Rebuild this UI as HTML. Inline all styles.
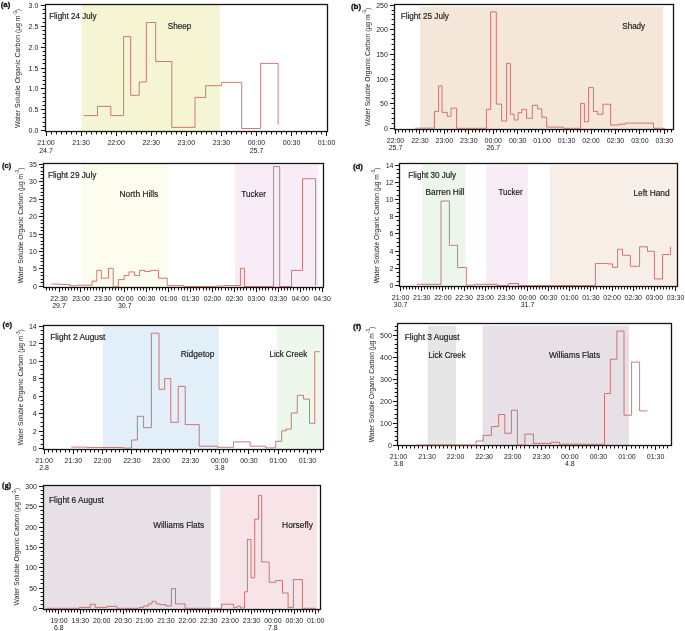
<!DOCTYPE html>
<html><head><meta charset="utf-8"><title>WSOC flights</title>
<style>
html,body{margin:0;padding:0;background:#fff;}
body{width:685px;height:631px;overflow:hidden;}
svg{display:block;font-family:"Liberation Sans", sans-serif;will-change:transform;}
</style></head>
<body>
<svg width="685" height="631" viewBox="0 0 685 631">
<rect width="685" height="631" fill="#fff"/>
<rect x="81.4" y="5" width="138.6" height="126.1" fill="#f5f5d3"/>
<rect x="45.5" y="4.5" width="282" height="127" fill="none" stroke="#141414" stroke-width="1.3"/>
<path d="M83.6,115.6 97.5,115.6 97.5,106.4 110.8,106.4 110.8,115.6 123.6,115.6 123.6,36.6 130.7,36.6 130.7,95.3 139.2,95.3 139.2,82 146.3,82 146.3,22.5 155.7,22.5 155.7,61.5 171.8,61.5 171.8,127.4 195,127.4 195,97.4 205.7,97.4 205.7,85.7 221.7,85.7 221.7,82.4 241.7,82.4 241.7,128.5 260.7,128.5 260.7,63.4 278.1,63.4 278.1,124.6" fill="none" stroke="#c0504d" stroke-width="1.0" stroke-opacity="0.75" stroke-linejoin="miter"/>
<path d="M40.9,130.5H45.5M40.9,109.5H45.5M40.9,88.5H45.5M40.9,68.5H45.5M40.9,47.5H45.5M40.9,26.5H45.5M40.9,5.5H45.5M42.6,126.5H45.5M42.6,122.5H45.5M42.6,117.5H45.5M42.6,113.5H45.5M42.6,105.5H45.5M42.6,101.5H45.5M42.6,97.5H45.5M42.6,93.5H45.5M42.6,84.5H45.5M42.6,80.5H45.5M42.6,76.5H45.5M42.6,72.5H45.5M42.6,63.5H45.5M42.6,59.5H45.5M42.6,55.5H45.5M42.6,51.5H45.5M42.6,43.5H45.5M42.6,38.5H45.5M42.6,34.5H45.5M42.6,30.5H45.5M42.6,22.5H45.5M42.6,18.5H45.5M42.6,13.5H45.5M42.6,9.5H45.5M46.5,131.5V135.9M81.5,131.5V135.9M116.5,131.5V135.9M151.5,131.5V135.9M186.5,131.5V135.9M221.5,131.5V135.9M256.5,131.5V135.9M291.5,131.5V135.9M326.5,131.5V135.9M51.5,131.5V134.6M56.5,131.5V134.6M61.5,131.5V134.6M66.5,131.5V134.6M71.5,131.5V134.6M76.5,131.5V134.6M86.5,131.5V134.6M91.5,131.5V134.6M96.5,131.5V134.6M101.5,131.5V134.6M106.5,131.5V134.6M111.5,131.5V134.6M121.5,131.5V134.6M126.5,131.5V134.6M131.5,131.5V134.6M136.5,131.5V134.6M141.5,131.5V134.6M146.5,131.5V134.6M156.5,131.5V134.6M161.5,131.5V134.6M166.5,131.5V134.6M171.5,131.5V134.6M176.5,131.5V134.6M181.5,131.5V134.6M191.5,131.5V134.6M196.5,131.5V134.6M201.5,131.5V134.6M206.5,131.5V134.6M211.5,131.5V134.6M216.5,131.5V134.6M226.5,131.5V134.6M231.5,131.5V134.6M236.5,131.5V134.6M241.5,131.5V134.6M246.5,131.5V134.6M251.5,131.5V134.6M261.5,131.5V134.6M266.5,131.5V134.6M271.5,131.5V134.6M276.5,131.5V134.6M281.5,131.5V134.6M286.5,131.5V134.6M296.5,131.5V134.6M301.5,131.5V134.6M306.5,131.5V134.6M311.5,131.5V134.6M316.5,131.5V134.6M321.5,131.5V134.6" stroke="#141414" stroke-width="1.05" fill="none"/>
<text x="38.3" y="132.95" font-size="7" text-anchor="end" fill="#222">0.0</text>
<text x="38.3" y="112.15" font-size="7" text-anchor="end" fill="#222">0.5</text>
<text x="38.3" y="91.35" font-size="7" text-anchor="end" fill="#222">1.0</text>
<text x="38.3" y="70.55" font-size="7" text-anchor="end" fill="#222">1.5</text>
<text x="38.3" y="49.75" font-size="7" text-anchor="end" fill="#222">2.0</text>
<text x="38.3" y="28.95" font-size="7" text-anchor="end" fill="#222">2.5</text>
<text x="38.3" y="8.15" font-size="7" text-anchor="end" fill="#222">3.0</text>
<text x="46" y="144.8" font-size="7" text-anchor="middle" fill="#222">21:00</text>
<text x="81.08" y="144.8" font-size="7" text-anchor="middle" fill="#222">21:30</text>
<text x="116.16" y="144.8" font-size="7" text-anchor="middle" fill="#222">22:00</text>
<text x="151.24" y="144.8" font-size="7" text-anchor="middle" fill="#222">22:30</text>
<text x="186.32" y="144.8" font-size="7" text-anchor="middle" fill="#222">23:00</text>
<text x="221.4" y="144.8" font-size="7" text-anchor="middle" fill="#222">23:30</text>
<text x="256.48" y="144.8" font-size="7" text-anchor="middle" fill="#222">00:00</text>
<text x="291.56" y="144.8" font-size="7" text-anchor="middle" fill="#222">00:30</text>
<text x="326.64" y="144.8" font-size="7" text-anchor="middle" fill="#222">01:00</text>
<text x="46" y="152.5" font-size="7" text-anchor="middle" fill="#222">24.7</text>
<text x="256.48" y="152.5" font-size="7" text-anchor="middle" fill="#222">25.7</text>
<text x="49.15" y="18.9" font-size="8.3" fill="#1c1c1c" stroke="#1c1c1c" stroke-width="0.18" textLength="47.4" lengthAdjust="spacingAndGlyphs">Flight 24 July</text>
<text x="167.75" y="28.9" font-size="8.3" fill="#1c1c1c" stroke="#1c1c1c" stroke-width="0.18" textLength="23.6" lengthAdjust="spacingAndGlyphs">Sheep</text>
<text x="0.7" y="7.3" font-size="7.7" font-weight="bold" fill="#111" stroke="#111" stroke-width="0.3" textLength="9.6" lengthAdjust="spacingAndGlyphs">(a)</text>
<text transform="translate(20.2,68.4) rotate(-90)" font-size="6.85" text-anchor="middle" fill="#222">Water Soluble Organic Carbon (&#181;g m<tspan font-size="4.79" dy="-3.6">-3</tspan><tspan dy="3.6">)</tspan></text>
<rect x="420" y="6.7" width="243" height="122.6" fill="#f5e6da"/>
<rect x="394.5" y="4.5" width="279" height="125" fill="none" stroke="#141414" stroke-width="1.3"/>
<path d="M415.1,128.2 434.4,128.2 434.4,111.3 438.6,111.3 438.6,85.9 442,85.9 442,112.4 447.3,112.4 447.3,116.3 451,116.3 451,108.2 456.6,108.2 456.6,128.3 486.4,128.3 486.4,109.4 490.6,109.4 490.6,11.9 496.3,11.9 496.3,104.1 501.6,104.1 501.6,121 506.6,121 506.6,63.4 510.4,63.4 510.4,114.1 514.1,114.1 514.1,120 518.1,120 518.1,112.6 521.9,112.6 521.9,109.3 526.5,109.3 526.5,118.3 532.3,118.3 532.3,105.3 537.6,105.3 537.6,108.9 541.8,108.9 541.8,117.3 546.6,117.3 546.6,127.1 563.2,127.1 563.2,128.3 580.6,128.3 580.6,103.4 584.4,103.4 584.4,121.8 588.6,121.8 588.6,87.6 593.4,87.6 593.4,111.4 597.7,111.4 597.7,114.3 602.9,114.3 602.9,104.2 610.6,104.2 610.6,125 618.6,125 618.6,124.2 625.5,124.2 625.5,123.1 653.5,123.1 653.5,128.3 665,128.3" fill="none" stroke="#c0504d" stroke-width="1.0" stroke-opacity="0.75" stroke-linejoin="miter"/>
<path d="M389.9,128.5H394.5M389.9,103.5H394.5M389.9,79.5H394.5M389.9,54.5H394.5M389.9,29.5H394.5M389.9,5.5H394.5M391.6,123.5H394.5M391.6,118.5H394.5M391.6,113.5H394.5M391.6,108.5H394.5M391.6,98.5H394.5M391.6,93.5H394.5M391.6,89.5H394.5M391.6,84.5H394.5M391.6,74.5H394.5M391.6,69.5H394.5M391.6,64.5H394.5M391.6,59.5H394.5M391.6,49.5H394.5M391.6,44.5H394.5M391.6,39.5H394.5M391.6,34.5H394.5M391.6,24.5H394.5M391.6,19.5H394.5M391.6,14.5H394.5M391.6,10.5H394.5M395.5,129.5V133.9M419.5,129.5V133.9M444.5,129.5V133.9M468.5,129.5V133.9M493.5,129.5V133.9M517.5,129.5V133.9M542.5,129.5V133.9M566.5,129.5V133.9M591.5,129.5V133.9M615.5,129.5V133.9M639.5,129.5V133.9M664.5,129.5V133.9M398.5,129.5V132.6M402.5,129.5V132.6M405.5,129.5V132.6M409.5,129.5V132.6M412.5,129.5V132.6M416.5,129.5V132.6M423.5,129.5V132.6M426.5,129.5V132.6M430.5,129.5V132.6M433.5,129.5V132.6M437.5,129.5V132.6M440.5,129.5V132.6M447.5,129.5V132.6M451.5,129.5V132.6M454.5,129.5V132.6M458.5,129.5V132.6M461.5,129.5V132.6M465.5,129.5V132.6M472.5,129.5V132.6M475.5,129.5V132.6M479.5,129.5V132.6M482.5,129.5V132.6M486.5,129.5V132.6M489.5,129.5V132.6M496.5,129.5V132.6M500.5,129.5V132.6M503.5,129.5V132.6M507.5,129.5V132.6M510.5,129.5V132.6M514.5,129.5V132.6M521.5,129.5V132.6M524.5,129.5V132.6M528.5,129.5V132.6M531.5,129.5V132.6M535.5,129.5V132.6M538.5,129.5V132.6M545.5,129.5V132.6M549.5,129.5V132.6M552.5,129.5V132.6M556.5,129.5V132.6M559.5,129.5V132.6M563.5,129.5V132.6M570.5,129.5V132.6M573.5,129.5V132.6M577.5,129.5V132.6M580.5,129.5V132.6M584.5,129.5V132.6M587.5,129.5V132.6M594.5,129.5V132.6M598.5,129.5V132.6M601.5,129.5V132.6M604.5,129.5V132.6M608.5,129.5V132.6M611.5,129.5V132.6M618.5,129.5V132.6M622.5,129.5V132.6M625.5,129.5V132.6M629.5,129.5V132.6M632.5,129.5V132.6M636.5,129.5V132.6M643.5,129.5V132.6M646.5,129.5V132.6M650.5,129.5V132.6M653.5,129.5V132.6M657.5,129.5V132.6M660.5,129.5V132.6M667.5,129.5V132.6M671.5,129.5V132.6" stroke="#141414" stroke-width="1.05" fill="none"/>
<text x="387.9" y="131" font-size="7" text-anchor="end" fill="#222">0</text>
<text x="387.9" y="106.32" font-size="7" text-anchor="end" fill="#222">50</text>
<text x="387.9" y="81.64" font-size="7" text-anchor="end" fill="#222">100</text>
<text x="387.9" y="56.96" font-size="7" text-anchor="end" fill="#222">150</text>
<text x="387.9" y="32.28" font-size="7" text-anchor="end" fill="#222">200</text>
<text x="387.9" y="7.6" font-size="7" text-anchor="end" fill="#222">250</text>
<text x="395.5" y="143" font-size="7" text-anchor="middle" fill="#222">22:00</text>
<text x="419.94" y="143" font-size="7" text-anchor="middle" fill="#222">22:30</text>
<text x="444.38" y="143" font-size="7" text-anchor="middle" fill="#222">23:00</text>
<text x="468.82" y="143" font-size="7" text-anchor="middle" fill="#222">23:30</text>
<text x="493.26" y="143" font-size="7" text-anchor="middle" fill="#222">00:00</text>
<text x="517.7" y="143" font-size="7" text-anchor="middle" fill="#222">00:30</text>
<text x="542.14" y="143" font-size="7" text-anchor="middle" fill="#222">01:00</text>
<text x="566.58" y="143" font-size="7" text-anchor="middle" fill="#222">01:30</text>
<text x="591.02" y="143" font-size="7" text-anchor="middle" fill="#222">02:00</text>
<text x="615.46" y="143" font-size="7" text-anchor="middle" fill="#222">02:30</text>
<text x="639.9" y="143" font-size="7" text-anchor="middle" fill="#222">03:00</text>
<text x="664.34" y="143" font-size="7" text-anchor="middle" fill="#222">03:30</text>
<text x="395.5" y="149.5" font-size="7" text-anchor="middle" fill="#222">25.7</text>
<text x="493.26" y="149.5" font-size="7" text-anchor="middle" fill="#222">26.7</text>
<text x="400.65" y="19" font-size="8.3" fill="#1c1c1c" stroke="#1c1c1c" stroke-width="0.18" textLength="48.2" lengthAdjust="spacingAndGlyphs">Flight 25 July</text>
<text x="622.25" y="28.5" font-size="8.3" fill="#1c1c1c" stroke="#1c1c1c" stroke-width="0.18" textLength="22.9" lengthAdjust="spacingAndGlyphs">Shady</text>
<text x="350.9" y="8.8" font-size="7.7" font-weight="bold" fill="#111" stroke="#111" stroke-width="0.3" textLength="10.3" lengthAdjust="spacingAndGlyphs">(b)</text>
<text transform="translate(369.8,66.9) rotate(-90)" font-size="6.8" text-anchor="middle" fill="#222">Water Soluble Organic Carbon (&#181;g m<tspan font-size="4.76" dy="-3.6">-3</tspan><tspan dy="3.6">)</tspan></text>
<rect x="81.8" y="163.5" width="85.1" height="123.7" fill="#fcfcef"/>
<rect x="234.8" y="165" width="83.2" height="122.2" fill="#f8edf7"/>
<rect x="43.5" y="163.5" width="280" height="124" fill="none" stroke="#141414" stroke-width="1.3"/>
<path d="M51.2,284.1 60.4,284.1 60.4,284.5 69.6,284.5 69.6,285.8 77.8,285.8 77.8,285.2 92.1,285.2 92.1,281.1 96.8,281.1 96.8,270.4 101.3,270.4 101.3,278.2 108.5,278.2 108.5,268.4 113.2,268.4 113.2,286.8 118.3,286.8 118.3,279.6 124.2,279.6 124.2,275.5 128.9,275.5 128.9,271.9 134.4,271.9 134.4,275.5 139.5,275.5 139.5,270.4 144.6,270.4 144.6,271.5 150.4,271.5 150.4,270.4 158.5,270.4 158.5,278.2 167.2,278.2 167.2,285.6 183.7,285.6 183.7,286.5 215.8,286.5 215.8,286 225,286 225,285.5 240.4,285.5 240.4,268.3 244.4,268.3 244.4,286.5 273.6,286.5 273.6,166.6 279.7,166.6 279.7,286.5 291.5,286.5 291.5,270.4 302.5,270.4 302.5,178.7 315.6,178.7 315.6,285.6" fill="none" stroke="#c0504d" stroke-width="1.0" stroke-opacity="0.75" stroke-linejoin="miter"/>
<path d="M38.9,286.5H43.5M38.9,268.5H43.5M38.9,251.5H43.5M38.9,234.5H43.5M38.9,216.5H43.5M38.9,199.5H43.5M38.9,181.5H43.5M38.9,164.5H43.5M40.6,282.5H43.5M40.6,279.5H43.5M40.6,275.5H43.5M40.6,272.5H43.5M40.6,265.5H43.5M40.6,261.5H43.5M40.6,258.5H43.5M40.6,255.5H43.5M40.6,248.5H43.5M40.6,244.5H43.5M40.6,241.5H43.5M40.6,237.5H43.5M40.6,230.5H43.5M40.6,227.5H43.5M40.6,223.5H43.5M40.6,220.5H43.5M40.6,213.5H43.5M40.6,209.5H43.5M40.6,206.5H43.5M40.6,202.5H43.5M40.6,195.5H43.5M40.6,192.5H43.5M40.6,188.5H43.5M40.6,185.5H43.5M40.6,178.5H43.5M40.6,174.5H43.5M40.6,171.5H43.5M40.6,167.5H43.5M59.5,287.5V291.9M80.5,287.5V291.9M102.5,287.5V291.9M124.5,287.5V291.9M146.5,287.5V291.9M168.5,287.5V291.9M190.5,287.5V291.9M212.5,287.5V291.9M234.5,287.5V291.9M256.5,287.5V291.9M278.5,287.5V291.9M300.5,287.5V291.9M322.5,287.5V291.9M46.5,287.5V290.6M49.5,287.5V290.6M52.5,287.5V290.6M55.5,287.5V290.6M62.5,287.5V290.6M65.5,287.5V290.6M68.5,287.5V290.6M71.5,287.5V290.6M74.5,287.5V290.6M77.5,287.5V290.6M84.5,287.5V290.6M87.5,287.5V290.6M90.5,287.5V290.6M93.5,287.5V290.6M96.5,287.5V290.6M99.5,287.5V290.6M105.5,287.5V290.6M109.5,287.5V290.6M112.5,287.5V290.6M115.5,287.5V290.6M118.5,287.5V290.6M121.5,287.5V290.6M127.5,287.5V290.6M131.5,287.5V290.6M134.5,287.5V290.6M137.5,287.5V290.6M140.5,287.5V290.6M143.5,287.5V290.6M149.5,287.5V290.6M152.5,287.5V290.6M156.5,287.5V290.6M159.5,287.5V290.6M162.5,287.5V290.6M165.5,287.5V290.6M171.5,287.5V290.6M174.5,287.5V290.6M178.5,287.5V290.6M181.5,287.5V290.6M184.5,287.5V290.6M187.5,287.5V290.6M193.5,287.5V290.6M196.5,287.5V290.6M199.5,287.5V290.6M203.5,287.5V290.6M206.5,287.5V290.6M209.5,287.5V290.6M215.5,287.5V290.6M218.5,287.5V290.6M221.5,287.5V290.6M225.5,287.5V290.6M228.5,287.5V290.6M231.5,287.5V290.6M237.5,287.5V290.6M240.5,287.5V290.6M243.5,287.5V290.6M246.5,287.5V290.6M250.5,287.5V290.6M253.5,287.5V290.6M259.5,287.5V290.6M262.5,287.5V290.6M265.5,287.5V290.6M268.5,287.5V290.6M272.5,287.5V290.6M275.5,287.5V290.6M281.5,287.5V290.6M284.5,287.5V290.6M287.5,287.5V290.6M290.5,287.5V290.6M293.5,287.5V290.6M297.5,287.5V290.6M303.5,287.5V290.6M306.5,287.5V290.6M309.5,287.5V290.6M312.5,287.5V290.6M315.5,287.5V290.6M319.5,287.5V290.6" stroke="#141414" stroke-width="1.05" fill="none"/>
<text x="36.8" y="288.9" font-size="7" text-anchor="end" fill="#222">0</text>
<text x="36.8" y="271.47" font-size="7" text-anchor="end" fill="#222">5</text>
<text x="36.8" y="254.04" font-size="7" text-anchor="end" fill="#222">10</text>
<text x="36.8" y="236.61" font-size="7" text-anchor="end" fill="#222">15</text>
<text x="36.8" y="219.18" font-size="7" text-anchor="end" fill="#222">20</text>
<text x="36.8" y="201.75" font-size="7" text-anchor="end" fill="#222">25</text>
<text x="36.8" y="184.32" font-size="7" text-anchor="end" fill="#222">30</text>
<text x="36.8" y="166.89" font-size="7" text-anchor="end" fill="#222">35</text>
<text x="59" y="300.5" font-size="7" text-anchor="middle" fill="#222">22:30</text>
<text x="80.93" y="300.5" font-size="7" text-anchor="middle" fill="#222">23:00</text>
<text x="102.86" y="300.5" font-size="7" text-anchor="middle" fill="#222">23:30</text>
<text x="124.79" y="300.5" font-size="7" text-anchor="middle" fill="#222">00:00</text>
<text x="146.72" y="300.5" font-size="7" text-anchor="middle" fill="#222">00:30</text>
<text x="168.65" y="300.5" font-size="7" text-anchor="middle" fill="#222">01:00</text>
<text x="190.58" y="300.5" font-size="7" text-anchor="middle" fill="#222">01:30</text>
<text x="212.51" y="300.5" font-size="7" text-anchor="middle" fill="#222">02:00</text>
<text x="234.44" y="300.5" font-size="7" text-anchor="middle" fill="#222">02:30</text>
<text x="256.37" y="300.5" font-size="7" text-anchor="middle" fill="#222">03:00</text>
<text x="278.3" y="300.5" font-size="7" text-anchor="middle" fill="#222">03:30</text>
<text x="300.23" y="300.5" font-size="7" text-anchor="middle" fill="#222">04:00</text>
<text x="322.16" y="300.5" font-size="7" text-anchor="middle" fill="#222">04:30</text>
<text x="59" y="308" font-size="7" text-anchor="middle" fill="#222">29.7</text>
<text x="124.79" y="308" font-size="7" text-anchor="middle" fill="#222">30.7</text>
<text x="48.05" y="178.1" font-size="8.3" fill="#1c1c1c" stroke="#1c1c1c" stroke-width="0.18" textLength="48.3" lengthAdjust="spacingAndGlyphs">Flight 29 July</text>
<text x="119.55" y="196.9" font-size="8.3" fill="#1c1c1c" stroke="#1c1c1c" stroke-width="0.18" textLength="38.7" lengthAdjust="spacingAndGlyphs">North Hills</text>
<text x="241.35" y="196.6" font-size="8.3" fill="#1c1c1c" stroke="#1c1c1c" stroke-width="0.18" textLength="24.6" lengthAdjust="spacingAndGlyphs">Tucker</text>
<text x="2" y="167.7" font-size="7.7" font-weight="bold" fill="#111" stroke="#111" stroke-width="0.3" textLength="9.2" lengthAdjust="spacingAndGlyphs">(c)</text>
<text transform="translate(23,225.4) rotate(-90)" font-size="6.65" text-anchor="middle" fill="#222">Water Soluble Organic Carbon (&#181;g m<tspan font-size="4.66" dy="-3.6">-3</tspan><tspan dy="3.6">)</tspan></text>
<rect x="422" y="165.1" width="43.3" height="121.2" fill="#ecf7ec"/>
<rect x="486" y="165.3" width="41.9" height="121" fill="#f8edf6"/>
<rect x="550" y="165.3" width="127.3" height="121" fill="#f7eee8"/>
<rect x="399.5" y="163.5" width="278" height="123" fill="none" stroke="#141414" stroke-width="1.3"/>
<path d="M416.8,284.3 441,284.3 441,201 449.4,201 449.4,245.3 457.6,245.3 457.6,267.5 466.3,267.5 466.3,285.2 474.6,285.2 474.6,284.3 497.1,284.3 497.1,285.5 508.5,285.5 508.5,283.6 518.5,283.6 518.5,285.6 595.4,285.6 595.4,263.5 607.5,263.5 607.5,263.9 612.5,263.9 612.5,267.4 617.6,267.4 617.6,249.3 622.5,249.3 622.5,255.3 630.3,255.3 630.3,266.3 639.6,266.3 639.6,246.8 647.5,246.8 647.5,251.3 654.4,251.3 654.4,278.9 662.5,278.9 662.5,254.5 670.4,254.5 670.4,246.8" fill="none" stroke="#c0504d" stroke-width="1.0" stroke-opacity="0.75" stroke-linejoin="miter"/>
<path d="M394.9,285.5H399.5M394.9,268.5H399.5M394.9,251.5H399.5M394.9,233.5H399.5M394.9,216.5H399.5M394.9,199.5H399.5M394.9,182.5H399.5M394.9,165.5H399.5M396.6,281.5H399.5M396.6,276.5H399.5M396.6,272.5H399.5M396.6,264.5H399.5M396.6,259.5H399.5M396.6,255.5H399.5M396.6,246.5H399.5M396.6,242.5H399.5M396.6,238.5H399.5M396.6,229.5H399.5M396.6,225.5H399.5M396.6,220.5H399.5M396.6,212.5H399.5M396.6,208.5H399.5M396.6,203.5H399.5M396.6,195.5H399.5M396.6,190.5H399.5M396.6,186.5H399.5M396.6,177.5H399.5M396.6,173.5H399.5M396.6,169.5H399.5M400.5,286.5V290.9M421.5,286.5V290.9M442.5,286.5V290.9M464.5,286.5V290.9M485.5,286.5V290.9M506.5,286.5V290.9M527.5,286.5V290.9M548.5,286.5V290.9M569.5,286.5V290.9M590.5,286.5V290.9M612.5,286.5V290.9M633.5,286.5V290.9M654.5,286.5V290.9M675.5,286.5V290.9M403.5,286.5V289.6M406.5,286.5V289.6M409.5,286.5V289.6M412.5,286.5V289.6M415.5,286.5V289.6M418.5,286.5V289.6M424.5,286.5V289.6M427.5,286.5V289.6M430.5,286.5V289.6M433.5,286.5V289.6M436.5,286.5V289.6M439.5,286.5V289.6M445.5,286.5V289.6M448.5,286.5V289.6M451.5,286.5V289.6M454.5,286.5V289.6M458.5,286.5V289.6M461.5,286.5V289.6M467.5,286.5V289.6M470.5,286.5V289.6M473.5,286.5V289.6M476.5,286.5V289.6M479.5,286.5V289.6M482.5,286.5V289.6M488.5,286.5V289.6M491.5,286.5V289.6M494.5,286.5V289.6M497.5,286.5V289.6M500.5,286.5V289.6M503.5,286.5V289.6M509.5,286.5V289.6M512.5,286.5V289.6M515.5,286.5V289.6M518.5,286.5V289.6M521.5,286.5V289.6M524.5,286.5V289.6M530.5,286.5V289.6M533.5,286.5V289.6M536.5,286.5V289.6M539.5,286.5V289.6M542.5,286.5V289.6M545.5,286.5V289.6M551.5,286.5V289.6M554.5,286.5V289.6M557.5,286.5V289.6M560.5,286.5V289.6M563.5,286.5V289.6M566.5,286.5V289.6M572.5,286.5V289.6M575.5,286.5V289.6M578.5,286.5V289.6M581.5,286.5V289.6M584.5,286.5V289.6M587.5,286.5V289.6M593.5,286.5V289.6M596.5,286.5V289.6M600.5,286.5V289.6M603.5,286.5V289.6M606.5,286.5V289.6M609.5,286.5V289.6M615.5,286.5V289.6M618.5,286.5V289.6M621.5,286.5V289.6M624.5,286.5V289.6M627.5,286.5V289.6M630.5,286.5V289.6M636.5,286.5V289.6M639.5,286.5V289.6M642.5,286.5V289.6M645.5,286.5V289.6M648.5,286.5V289.6M651.5,286.5V289.6M657.5,286.5V289.6M660.5,286.5V289.6M663.5,286.5V289.6M666.5,286.5V289.6M669.5,286.5V289.6M672.5,286.5V289.6" stroke="#141414" stroke-width="1.05" fill="none"/>
<text x="393.5" y="288.1" font-size="7" text-anchor="end" fill="#222">0</text>
<text x="393.5" y="270.87" font-size="7" text-anchor="end" fill="#222">2</text>
<text x="393.5" y="253.64" font-size="7" text-anchor="end" fill="#222">4</text>
<text x="393.5" y="236.42" font-size="7" text-anchor="end" fill="#222">6</text>
<text x="393.5" y="219.19" font-size="7" text-anchor="end" fill="#222">8</text>
<text x="393.5" y="201.96" font-size="7" text-anchor="end" fill="#222">10</text>
<text x="393.5" y="184.73" font-size="7" text-anchor="end" fill="#222">12</text>
<text x="393.5" y="167.5" font-size="7" text-anchor="end" fill="#222">14</text>
<text x="400.6" y="300" font-size="7" text-anchor="middle" fill="#222">21:00</text>
<text x="421.75" y="300" font-size="7" text-anchor="middle" fill="#222">21:30</text>
<text x="442.9" y="300" font-size="7" text-anchor="middle" fill="#222">22:00</text>
<text x="464.05" y="300" font-size="7" text-anchor="middle" fill="#222">22:30</text>
<text x="485.2" y="300" font-size="7" text-anchor="middle" fill="#222">23:00</text>
<text x="506.35" y="300" font-size="7" text-anchor="middle" fill="#222">23:30</text>
<text x="527.5" y="300" font-size="7" text-anchor="middle" fill="#222">00:00</text>
<text x="548.65" y="300" font-size="7" text-anchor="middle" fill="#222">00:30</text>
<text x="569.8" y="300" font-size="7" text-anchor="middle" fill="#222">01:00</text>
<text x="590.95" y="300" font-size="7" text-anchor="middle" fill="#222">01:30</text>
<text x="612.1" y="300" font-size="7" text-anchor="middle" fill="#222">02:00</text>
<text x="633.25" y="300" font-size="7" text-anchor="middle" fill="#222">02:30</text>
<text x="654.4" y="300" font-size="7" text-anchor="middle" fill="#222">03:00</text>
<text x="675.55" y="300" font-size="7" text-anchor="middle" fill="#222">03:30</text>
<text x="400.6" y="307" font-size="7" text-anchor="middle" fill="#222">30.7</text>
<text x="527.5" y="307" font-size="7" text-anchor="middle" fill="#222">31.7</text>
<text x="408.35" y="178.2" font-size="8.3" fill="#1c1c1c" stroke="#1c1c1c" stroke-width="0.18" textLength="47.8" lengthAdjust="spacingAndGlyphs">Flight 30 July</text>
<text x="425.55" y="195" font-size="8.3" fill="#1c1c1c" stroke="#1c1c1c" stroke-width="0.18" textLength="38.9" lengthAdjust="spacingAndGlyphs">Barren Hill</text>
<text x="498.45" y="195" font-size="8.3" fill="#1c1c1c" stroke="#1c1c1c" stroke-width="0.18" textLength="24.2" lengthAdjust="spacingAndGlyphs">Tucker</text>
<text x="633.45" y="195.5" font-size="8.3" fill="#1c1c1c" stroke="#1c1c1c" stroke-width="0.18" textLength="36.2" lengthAdjust="spacingAndGlyphs">Left Hand</text>
<text x="352.9" y="169.2" font-size="7.7" font-weight="bold" fill="#111" stroke="#111" stroke-width="0.3" textLength="10.1" lengthAdjust="spacingAndGlyphs">(d)</text>
<text transform="translate(379,225.5) rotate(-90)" font-size="6.65" text-anchor="middle" fill="#222">Water Soluble Organic Carbon (&#181;g m<tspan font-size="4.66" dy="-3.6">-3</tspan><tspan dy="3.6">)</tspan></text>
<rect x="102.9" y="326.8" width="115.9" height="122.6" fill="#e2eef8"/>
<rect x="276.7" y="326.8" width="45.9" height="122.6" fill="#eef7eb"/>
<rect x="43.5" y="325.5" width="280" height="124" fill="none" stroke="#141414" stroke-width="1.3"/>
<path d="M71.4,447.1 87.2,447.1 87.2,447.5 123.1,447.5 123.1,448.1 131.6,448.1 131.6,440 137.4,440 137.4,416.3 143.6,416.3 143.6,427.7 151.4,427.7 151.4,333.2 159,333.2 159,389.3 164.6,389.3 164.6,378.6 170.8,378.6 170.8,422.3 178.2,422.3 178.2,386.4 185.2,386.4 185.2,424.6 199.2,424.6 199.2,446.2 217.5,446.2 217.5,447.3 233.5,447.3 233.5,441.9 250.2,441.9 250.2,446.2 265.6,446.2 265.6,447.9 275.7,447.9 275.7,441.3 281.7,441.3 281.7,430.8 285.9,430.8 285.9,429.1 291.3,429.1 291.3,413 297.3,413 297.3,395.3 303.5,395.3 303.5,399.1 309.5,399.1 309.5,423.3 314.8,423.3 314.8,351.7 319.7,351.7" fill="none" stroke="#c0504d" stroke-width="1.0" stroke-opacity="0.75" stroke-linejoin="miter"/>
<path d="M38.9,448.5H43.5M38.9,431.5H43.5M38.9,413.5H43.5M38.9,396.5H43.5M38.9,378.5H43.5M38.9,361.5H43.5M38.9,343.5H43.5M38.9,326.5H43.5M40.6,444.5H43.5M40.6,439.5H43.5M40.6,435.5H43.5M40.6,426.5H43.5M40.6,422.5H43.5M40.6,417.5H43.5M40.6,409.5H43.5M40.6,404.5H43.5M40.6,400.5H43.5M40.6,391.5H43.5M40.6,387.5H43.5M40.6,382.5H43.5M40.6,374.5H43.5M40.6,369.5H43.5M40.6,365.5H43.5M40.6,356.5H43.5M40.6,352.5H43.5M40.6,348.5H43.5M40.6,339.5H43.5M40.6,334.5H43.5M40.6,330.5H43.5M44.5,449.5V453.9M73.5,449.5V453.9M102.5,449.5V453.9M131.5,449.5V453.9M161.5,449.5V453.9M190.5,449.5V453.9M219.5,449.5V453.9M248.5,449.5V453.9M278.5,449.5V453.9M307.5,449.5V453.9M48.5,449.5V452.6M52.5,449.5V452.6M56.5,449.5V452.6M60.5,449.5V452.6M65.5,449.5V452.6M69.5,449.5V452.6M77.5,449.5V452.6M81.5,449.5V452.6M85.5,449.5V452.6M90.5,449.5V452.6M94.5,449.5V452.6M98.5,449.5V452.6M106.5,449.5V452.6M111.5,449.5V452.6M115.5,449.5V452.6M119.5,449.5V452.6M123.5,449.5V452.6M127.5,449.5V452.6M136.5,449.5V452.6M140.5,449.5V452.6M144.5,449.5V452.6M148.5,449.5V452.6M152.5,449.5V452.6M156.5,449.5V452.6M165.5,449.5V452.6M169.5,449.5V452.6M173.5,449.5V452.6M177.5,449.5V452.6M182.5,449.5V452.6M186.5,449.5V452.6M194.5,449.5V452.6M198.5,449.5V452.6M202.5,449.5V452.6M207.5,449.5V452.6M211.5,449.5V452.6M215.5,449.5V452.6M223.5,449.5V452.6M228.5,449.5V452.6M232.5,449.5V452.6M236.5,449.5V452.6M240.5,449.5V452.6M244.5,449.5V452.6M253.5,449.5V452.6M257.5,449.5V452.6M261.5,449.5V452.6M265.5,449.5V452.6M269.5,449.5V452.6M274.5,449.5V452.6M282.5,449.5V452.6M286.5,449.5V452.6M290.5,449.5V452.6M294.5,449.5V452.6M299.5,449.5V452.6M303.5,449.5V452.6M311.5,449.5V452.6M315.5,449.5V452.6M320.5,449.5V452.6" stroke="#141414" stroke-width="1.05" fill="none"/>
<text x="36.7" y="451" font-size="7" text-anchor="end" fill="#222">0</text>
<text x="36.7" y="433.53" font-size="7" text-anchor="end" fill="#222">2</text>
<text x="36.7" y="416.06" font-size="7" text-anchor="end" fill="#222">4</text>
<text x="36.7" y="398.58" font-size="7" text-anchor="end" fill="#222">6</text>
<text x="36.7" y="381.11" font-size="7" text-anchor="end" fill="#222">8</text>
<text x="36.7" y="363.64" font-size="7" text-anchor="end" fill="#222">10</text>
<text x="36.7" y="346.17" font-size="7" text-anchor="end" fill="#222">12</text>
<text x="36.7" y="328.7" font-size="7" text-anchor="end" fill="#222">14</text>
<text x="44.1" y="462.6" font-size="7" text-anchor="middle" fill="#222">21:00</text>
<text x="73.37" y="462.6" font-size="7" text-anchor="middle" fill="#222">21:30</text>
<text x="102.64" y="462.6" font-size="7" text-anchor="middle" fill="#222">22:00</text>
<text x="131.91" y="462.6" font-size="7" text-anchor="middle" fill="#222">22:30</text>
<text x="161.18" y="462.6" font-size="7" text-anchor="middle" fill="#222">23:00</text>
<text x="190.45" y="462.6" font-size="7" text-anchor="middle" fill="#222">23:30</text>
<text x="219.72" y="462.6" font-size="7" text-anchor="middle" fill="#222">00:00</text>
<text x="248.99" y="462.6" font-size="7" text-anchor="middle" fill="#222">00:30</text>
<text x="278.26" y="462.6" font-size="7" text-anchor="middle" fill="#222">01:00</text>
<text x="307.53" y="462.6" font-size="7" text-anchor="middle" fill="#222">01:30</text>
<text x="44.1" y="470" font-size="7" text-anchor="middle" fill="#222">2.8</text>
<text x="219.72" y="470" font-size="7" text-anchor="middle" fill="#222">3.8</text>
<text x="50.15" y="340" font-size="8.3" fill="#1c1c1c" stroke="#1c1c1c" stroke-width="0.18" textLength="55.3" lengthAdjust="spacingAndGlyphs">Flight 2 August</text>
<text x="180.65" y="357" font-size="8.3" fill="#1c1c1c" stroke="#1c1c1c" stroke-width="0.18" textLength="33.7" lengthAdjust="spacingAndGlyphs">Ridgetop</text>
<text x="269.45" y="357.4" font-size="8.3" fill="#1c1c1c" stroke="#1c1c1c" stroke-width="0.18" textLength="37.7" lengthAdjust="spacingAndGlyphs">Lick Creek</text>
<text x="2.6" y="327.3" font-size="7.7" font-weight="bold" fill="#111" stroke="#111" stroke-width="0.3" textLength="9.4" lengthAdjust="spacingAndGlyphs">(e)</text>
<text transform="translate(23.3,387.3) rotate(-90)" font-size="6.7" text-anchor="middle" fill="#222">Water Soluble Organic Carbon (&#181;g m<tspan font-size="4.69" dy="-3.6">-3</tspan><tspan dy="3.6">)</tspan></text>
<rect x="427.6" y="325.9" width="28.4" height="119.9" fill="#e6e6e6"/>
<rect x="482.5" y="325.6" width="146.5" height="120.2" fill="#e8e0e7"/>
<rect x="397.5" y="323.5" width="274" height="122" fill="none" stroke="#141414" stroke-width="1.3"/>
<path d="M416.8,445 476.1,445 476.1,441 483.2,441 483.2,435.4 491.4,435.4 491.4,426.6 498.6,426.6 498.6,414.5 504.8,414.5 504.8,433.3 511.4,433.3 511.4,410.2 517.4,410.2 517.4,445 524.9,445 524.9,434.1 533.4,434.1 533.4,443.4 551.1,443.4 551.1,442.3 559.6,442.3 559.6,444.2 583.4,444.2 583.4,444.3 604.5,444.3 604.5,393.5 610.3,393.5 610.3,359.2 616.9,359.2 616.9,331 624,331 624,415.2 631.6,415.2 631.6,362.1 639.6,362.1 639.6,410.9 647.5,410.9" fill="none" stroke="#c0504d" stroke-width="1.0" stroke-opacity="0.75" stroke-linejoin="miter"/>
<path d="M392.9,445.5H397.5M392.9,423.5H397.5M392.9,401.5H397.5M392.9,379.5H397.5M392.9,357.5H397.5M392.9,335.5H397.5M394.6,440.5H397.5M394.6,436.5H397.5M394.6,431.5H397.5M394.6,427.5H397.5M394.6,418.5H397.5M394.6,414.5H397.5M394.6,409.5H397.5M394.6,405.5H397.5M394.6,396.5H397.5M394.6,392.5H397.5M394.6,388.5H397.5M394.6,383.5H397.5M394.6,374.5H397.5M394.6,370.5H397.5M394.6,366.5H397.5M394.6,361.5H397.5M394.6,352.5H397.5M394.6,348.5H397.5M394.6,344.5H397.5M394.6,339.5H397.5M394.6,330.5H397.5M394.6,326.5H397.5M398.5,445.5V449.9M427.5,445.5V449.9M455.5,445.5V449.9M484.5,445.5V449.9M512.5,445.5V449.9M541.5,445.5V449.9M569.5,445.5V449.9M598.5,445.5V449.9M626.5,445.5V449.9M655.5,445.5V449.9M402.5,445.5V448.6M406.5,445.5V448.6M410.5,445.5V448.6M414.5,445.5V448.6M418.5,445.5V448.6M422.5,445.5V448.6M431.5,445.5V448.6M435.5,445.5V448.6M439.5,445.5V448.6M443.5,445.5V448.6M447.5,445.5V448.6M451.5,445.5V448.6M459.5,445.5V448.6M463.5,445.5V448.6M467.5,445.5V448.6M471.5,445.5V448.6M476.5,445.5V448.6M480.5,445.5V448.6M488.5,445.5V448.6M492.5,445.5V448.6M496.5,445.5V448.6M500.5,445.5V448.6M504.5,445.5V448.6M508.5,445.5V448.6M516.5,445.5V448.6M520.5,445.5V448.6M524.5,445.5V448.6M529.5,445.5V448.6M533.5,445.5V448.6M537.5,445.5V448.6M545.5,445.5V448.6M549.5,445.5V448.6M553.5,445.5V448.6M557.5,445.5V448.6M561.5,445.5V448.6M565.5,445.5V448.6M573.5,445.5V448.6M578.5,445.5V448.6M582.5,445.5V448.6M586.5,445.5V448.6M590.5,445.5V448.6M594.5,445.5V448.6M602.5,445.5V448.6M606.5,445.5V448.6M610.5,445.5V448.6M614.5,445.5V448.6M618.5,445.5V448.6M622.5,445.5V448.6M631.5,445.5V448.6M635.5,445.5V448.6M639.5,445.5V448.6M643.5,445.5V448.6M647.5,445.5V448.6M651.5,445.5V448.6M659.5,445.5V448.6M663.5,445.5V448.6M667.5,445.5V448.6" stroke="#141414" stroke-width="1.05" fill="none"/>
<text x="391.8" y="447.6" font-size="7" text-anchor="end" fill="#222">0</text>
<text x="391.8" y="425.64" font-size="7" text-anchor="end" fill="#222">100</text>
<text x="391.8" y="403.68" font-size="7" text-anchor="end" fill="#222">200</text>
<text x="391.8" y="381.72" font-size="7" text-anchor="end" fill="#222">300</text>
<text x="391.8" y="359.76" font-size="7" text-anchor="end" fill="#222">400</text>
<text x="391.8" y="337.8" font-size="7" text-anchor="end" fill="#222">500</text>
<text x="398.5" y="459.4" font-size="7" text-anchor="middle" fill="#222">21:00</text>
<text x="427.06" y="459.4" font-size="7" text-anchor="middle" fill="#222">21:30</text>
<text x="455.62" y="459.4" font-size="7" text-anchor="middle" fill="#222">22:00</text>
<text x="484.18" y="459.4" font-size="7" text-anchor="middle" fill="#222">22:30</text>
<text x="512.74" y="459.4" font-size="7" text-anchor="middle" fill="#222">23:00</text>
<text x="541.3" y="459.4" font-size="7" text-anchor="middle" fill="#222">23:30</text>
<text x="569.86" y="459.4" font-size="7" text-anchor="middle" fill="#222">00:00</text>
<text x="598.42" y="459.4" font-size="7" text-anchor="middle" fill="#222">00:30</text>
<text x="626.98" y="459.4" font-size="7" text-anchor="middle" fill="#222">01:00</text>
<text x="655.54" y="459.4" font-size="7" text-anchor="middle" fill="#222">01:30</text>
<text x="398.5" y="466.3" font-size="7" text-anchor="middle" fill="#222">3.8</text>
<text x="569.86" y="466.3" font-size="7" text-anchor="middle" fill="#222">4.8</text>
<text x="404.65" y="339.5" font-size="8.3" fill="#1c1c1c" stroke="#1c1c1c" stroke-width="0.18" textLength="54.9" lengthAdjust="spacingAndGlyphs">Flight 3 August</text>
<text x="428.45" y="357.7" font-size="8.3" fill="#1c1c1c" stroke="#1c1c1c" stroke-width="0.18" textLength="37.2" lengthAdjust="spacingAndGlyphs">Lick Creek</text>
<text x="548.95" y="357.9" font-size="8.3" fill="#1c1c1c" stroke="#1c1c1c" stroke-width="0.18" textLength="51.1" lengthAdjust="spacingAndGlyphs">Williams Flats</text>
<text x="352.9" y="328.6" font-size="7.7" font-weight="bold" fill="#111" stroke="#111" stroke-width="0.3" textLength="8.3" lengthAdjust="spacingAndGlyphs">(f)</text>
<text transform="translate(373.5,384.5) rotate(-90)" font-size="6.65" text-anchor="middle" fill="#222">Water Soluble Organic Carbon (&#181;g m<tspan font-size="4.66" dy="-3.6">-3</tspan><tspan dy="3.6">)</tspan></text>
<rect x="44" y="486" width="166.8" height="123.1" fill="#e8e0e7"/>
<rect x="220" y="486.9" width="97" height="122.2" fill="#f6e4e9"/>
<rect x="43.5" y="485.5" width="277" height="124" fill="none" stroke="#141414" stroke-width="1.3"/>
<path d="M46.2,608.3 79.4,608.3 79.4,607.4 90.2,607.4 90.2,604.3 95.2,604.3 95.2,607.4 107,607.4 107,606.4 116.8,606.4 116.8,608.3 139.3,608.3 139.3,607.4 143.8,607.4 143.8,606 148.3,606 148.3,603.9 152,603.9 152,601.3 156.1,601.3 156.1,603.9 160.1,603.9 160.1,604.6 165.9,604.6 165.9,606 171.4,606 171.4,588.6 175.5,588.6 175.5,603.9 185.1,603.9 185.1,608.3 221.7,608.3 221.7,604.2 233.5,604.2 233.5,607.4 237.1,607.4 237.1,606.3 240.3,606.3 240.3,608 244.6,608 244.6,591.8 247.4,591.8 247.4,539.5 251,539.5 251,577.8 254.7,577.8 254.7,519.2 258.5,519.2 258.5,495.4 261.7,495.4 261.7,562 269.2,562 269.2,582.3 275.6,582.3 275.6,580.6 282.5,580.6 282.5,593 288.1,593 288.1,607.4 293.4,607.4 293.4,579.6 302.4,579.6 302.4,608.3 316.3,608.3" fill="none" stroke="#c0504d" stroke-width="1.0" stroke-opacity="0.75" stroke-linejoin="miter"/>
<path d="M38.9,608.5H43.5M38.9,588.5H43.5M38.9,567.5H43.5M38.9,547.5H43.5M38.9,527.5H43.5M38.9,506.5H43.5M38.9,486.5H43.5M40.6,604.5H43.5M40.6,600.5H43.5M40.6,596.5H43.5M40.6,592.5H43.5M40.6,583.5H43.5M40.6,579.5H43.5M40.6,575.5H43.5M40.6,571.5H43.5M40.6,563.5H43.5M40.6,559.5H43.5M40.6,555.5H43.5M40.6,551.5H43.5M40.6,543.5H43.5M40.6,539.5H43.5M40.6,535.5H43.5M40.6,531.5H43.5M40.6,522.5H43.5M40.6,518.5H43.5M40.6,514.5H43.5M40.6,510.5H43.5M40.6,502.5H43.5M40.6,498.5H43.5M40.6,494.5H43.5M40.6,490.5H43.5M58.5,609.5V613.9M80.5,609.5V613.9M101.5,609.5V613.9M123.5,609.5V613.9M144.5,609.5V613.9M165.5,609.5V613.9M187.5,609.5V613.9M208.5,609.5V613.9M230.5,609.5V613.9M251.5,609.5V613.9M272.5,609.5V613.9M294.5,609.5V613.9M315.5,609.5V613.9M46.5,609.5V612.6M49.5,609.5V612.6M52.5,609.5V612.6M55.5,609.5V612.6M61.5,609.5V612.6M65.5,609.5V612.6M68.5,609.5V612.6M71.5,609.5V612.6M74.5,609.5V612.6M77.5,609.5V612.6M83.5,609.5V612.6M86.5,609.5V612.6M89.5,609.5V612.6M92.5,609.5V612.6M95.5,609.5V612.6M98.5,609.5V612.6M104.5,609.5V612.6M107.5,609.5V612.6M110.5,609.5V612.6M113.5,609.5V612.6M116.5,609.5V612.6M120.5,609.5V612.6M126.5,609.5V612.6M129.5,609.5V612.6M132.5,609.5V612.6M135.5,609.5V612.6M138.5,609.5V612.6M141.5,609.5V612.6M147.5,609.5V612.6M150.5,609.5V612.6M153.5,609.5V612.6M156.5,609.5V612.6M159.5,609.5V612.6M162.5,609.5V612.6M168.5,609.5V612.6M172.5,609.5V612.6M175.5,609.5V612.6M178.5,609.5V612.6M181.5,609.5V612.6M184.5,609.5V612.6M190.5,609.5V612.6M193.5,609.5V612.6M196.5,609.5V612.6M199.5,609.5V612.6M202.5,609.5V612.6M205.5,609.5V612.6M211.5,609.5V612.6M214.5,609.5V612.6M217.5,609.5V612.6M220.5,609.5V612.6M223.5,609.5V612.6M227.5,609.5V612.6M233.5,609.5V612.6M236.5,609.5V612.6M239.5,609.5V612.6M242.5,609.5V612.6M245.5,609.5V612.6M248.5,609.5V612.6M254.5,609.5V612.6M257.5,609.5V612.6M260.5,609.5V612.6M263.5,609.5V612.6M266.5,609.5V612.6M269.5,609.5V612.6M275.5,609.5V612.6M279.5,609.5V612.6M282.5,609.5V612.6M285.5,609.5V612.6M288.5,609.5V612.6M291.5,609.5V612.6M297.5,609.5V612.6M300.5,609.5V612.6M303.5,609.5V612.6M306.5,609.5V612.6M309.5,609.5V612.6M312.5,609.5V612.6M318.5,609.5V612.6" stroke="#141414" stroke-width="1.05" fill="none"/>
<text x="37" y="610.9" font-size="7" text-anchor="end" fill="#222">0</text>
<text x="37" y="590.55" font-size="7" text-anchor="end" fill="#222">50</text>
<text x="37" y="570.2" font-size="7" text-anchor="end" fill="#222">100</text>
<text x="37" y="549.85" font-size="7" text-anchor="end" fill="#222">150</text>
<text x="37" y="529.5" font-size="7" text-anchor="end" fill="#222">200</text>
<text x="37" y="509.15" font-size="7" text-anchor="end" fill="#222">250</text>
<text x="37" y="488.8" font-size="7" text-anchor="end" fill="#222">300</text>
<text x="58.9" y="622.6" font-size="7" text-anchor="middle" fill="#222">19:00</text>
<text x="80.3" y="622.6" font-size="7" text-anchor="middle" fill="#222">19:30</text>
<text x="101.7" y="622.6" font-size="7" text-anchor="middle" fill="#222">20:00</text>
<text x="123.1" y="622.6" font-size="7" text-anchor="middle" fill="#222">20:30</text>
<text x="144.5" y="622.6" font-size="7" text-anchor="middle" fill="#222">21:00</text>
<text x="165.9" y="622.6" font-size="7" text-anchor="middle" fill="#222">21:30</text>
<text x="187.3" y="622.6" font-size="7" text-anchor="middle" fill="#222">22:00</text>
<text x="208.7" y="622.6" font-size="7" text-anchor="middle" fill="#222">22:30</text>
<text x="230.1" y="622.6" font-size="7" text-anchor="middle" fill="#222">23:00</text>
<text x="251.5" y="622.6" font-size="7" text-anchor="middle" fill="#222">23:30</text>
<text x="272.9" y="622.6" font-size="7" text-anchor="middle" fill="#222">00:00</text>
<text x="294.3" y="622.6" font-size="7" text-anchor="middle" fill="#222">00:30</text>
<text x="315.7" y="622.6" font-size="7" text-anchor="middle" fill="#222">01:00</text>
<text x="58.9" y="629.7" font-size="7" text-anchor="middle" fill="#222">6.8</text>
<text x="272.9" y="629.7" font-size="7" text-anchor="middle" fill="#222">7.8</text>
<text x="49.05" y="502.9" font-size="8.3" fill="#1c1c1c" stroke="#1c1c1c" stroke-width="0.18" textLength="54.8" lengthAdjust="spacingAndGlyphs">Flight 6 August</text>
<text x="153.15" y="528.2" font-size="8.3" fill="#1c1c1c" stroke="#1c1c1c" stroke-width="0.18" textLength="51" lengthAdjust="spacingAndGlyphs">Williams Flats</text>
<text x="282.05" y="528.2" font-size="8.3" fill="#1c1c1c" stroke="#1c1c1c" stroke-width="0.18" textLength="30.9" lengthAdjust="spacingAndGlyphs">Horsefly</text>
<text x="2" y="488" font-size="7.7" font-weight="bold" fill="#111" stroke="#111" stroke-width="0.3" textLength="9.2" lengthAdjust="spacingAndGlyphs" font-family="Liberation Serif">(g)</text>
<text transform="translate(19.2,546.8) rotate(-90)" font-size="6.75" text-anchor="middle" fill="#222">Water Soluble Organic Carbon (&#181;g m<tspan font-size="4.72" dy="-3.6">-3</tspan><tspan dy="3.6">)</tspan></text>
</svg>
</body></html>
